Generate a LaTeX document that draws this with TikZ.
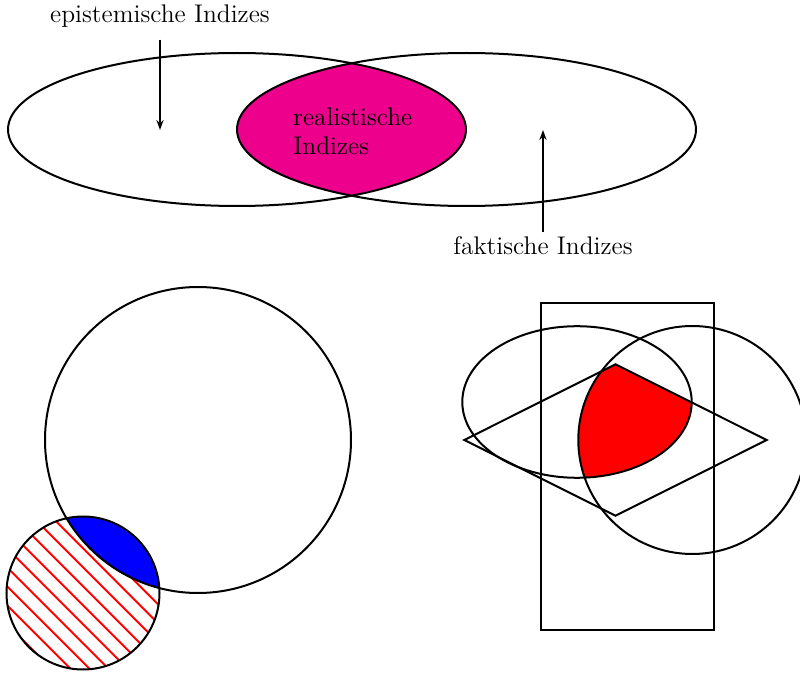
\documentclass[tikz,border=0pt]{standalone}
\usepackage{tikz}
\usetikzlibrary{arrows.meta}
\definecolor{realMagenta}{RGB}{236,0,140}

\begin{document}
\begin{tikzpicture}[
  x=0.5pt, y=-0.5pt,
  outline/.style={draw=black, line width=1pt},
  tag/.style={font=\fontsize{12.75}{14.5}\selectfont, inner sep=2pt},
  arrow/.style={-{Stealth[length=5pt,width=3.6pt]}, thick},
  hatch/.style={draw=red, line width=1pt}
]
  \useasboundingbox (0,0) rectangle (800,674);

  \begin{scope}
    \clip (237,129.5) ellipse [x radius=229, y radius=76.5];
    \fill[realMagenta] (466.5,129.5) ellipse [x radius=229.5, y radius=76.5];
  \end{scope}
  \draw[outline] (237,129.5) ellipse [x radius=229, y radius=76.5];
  \draw[outline] (466.5,129.5) ellipse [x radius=229.5, y radius=76.5];

  \node[tag, align=left, anchor=west] (real) at (289,131) {realistische\\Indizes};
  \node[tag] (epi) at (160,16) {epistemische Indizes};
  \node[tag] (fak) at (543,246) {faktische Indizes};
  \coordinate (epiTip) at (160,130);
  \coordinate (fakTip) at (543,130);
  \draw[arrow, shorten <=4pt] (epi) -- (epiTip);
  \draw[arrow] (fak) -- (fakTip);

  \begin{scope}
    \clip (83,593) circle [radius=76.5];
    \foreach \k [evaluate=\k as \d using 3.4+9.5*\k] in {-12,...,12}
      \draw[hatch] (83+\d-90,593-\d-90) -- (83+\d+90,593-\d+90);
    \fill[blue] (198,440) circle [radius=153];
  \end{scope}
  \draw[outline] (198,440) circle [radius=153];
  \draw[outline] (83,593) circle [radius=76.5];

  \begin{scope}
    \clip (577,402) ellipse [x radius=114.7, y radius=75.8];
    \clip (692.3,440) circle [radius=114];
    \fill[red] (464.3,440) -- (615.5,364.3) -- (766.7,440) -- (615.5,515.7) -- cycle;
  \end{scope}
  \draw[outline] (540.5,302.7) rectangle (714.3,630);
  \draw[outline] (577,402) ellipse [x radius=114.7, y radius=75.8];
  \draw[outline] (692.3,440) circle [radius=114];
  \draw[outline] (464.3,440) -- (615.5,364.3) -- (766.7,440) -- (615.5,515.7) -- cycle;
\end{tikzpicture}
\end{document}
